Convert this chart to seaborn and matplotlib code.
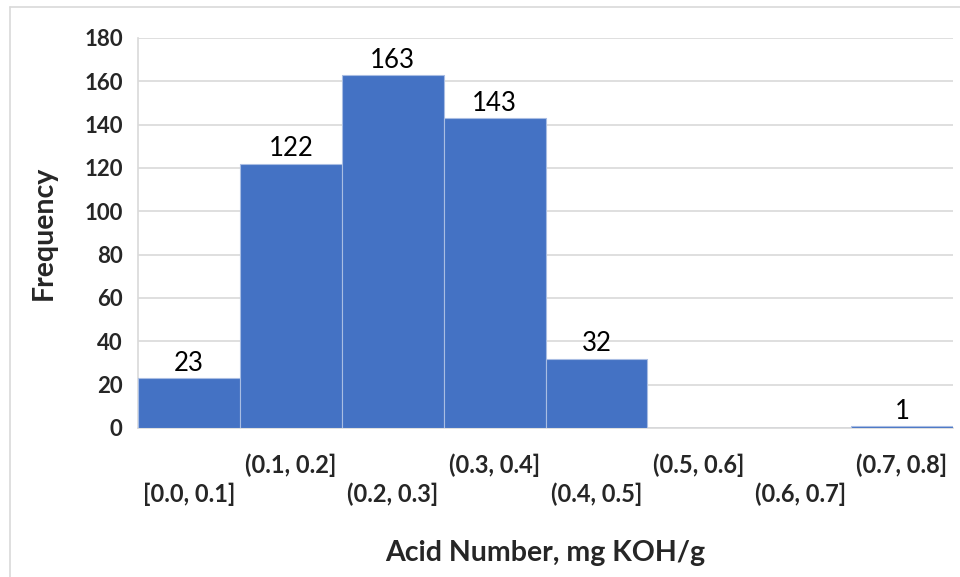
import numpy as np
import pandas as pd
import matplotlib.pyplot as plt
import seaborn as sns
from matplotlib.lines import Line2D

bins = ["[0.0, 0.1]", "(0.1, 0.2]", "(0.2, 0.3]", "(0.3, 0.4]",
        "(0.4, 0.5]", "(0.5, 0.6]", "(0.6, 0.7]", "(0.7, 0.8]"]
counts = [23, 122, 163, 143, 32, 0, 0, 1]
yticks = [0, 20, 40, 60, 80, 100, 120, 140, 160, 180]

BAR = "#4472C4"
GRID = "#D9D9D9"

sns.set_style("white")
plt.rcParams["font.family"] = ["Lato", "DejaVu Sans"]

df = pd.DataFrame({"bin": bins, "count": counts})

fig = plt.figure(figsize=(9.6, 5.77), dpi=100)
ax = fig.add_axes([138 / 960, 1 - 428 / 577, (953 - 138) / 960, (428 - 38) / 577])

sns.barplot(data=df, x="bin", y="count", color=BAR, width=1.0,
            edgecolor="#A9BDE3", linewidth=0.8, saturation=1, ax=ax, zorder=3)

ax.set_xlim(-0.5, len(bins) - 0.5)
ax.set_ylim(0, 180)
ax.set_yticks(yticks)
ax.yaxis.grid(True, color=GRID, linewidth=1.2, zorder=0)
ax.set_axisbelow(True)

# value labels above bars
for i, c in enumerate(counts):
    if c > 0:
        ax.text(i, c + 1.0, str(c), ha="center", va="bottom", fontsize=18.5, color="black")

# staggered category labels, tick marks on bin edges
ax.set_xticks(range(len(bins)))
ax.set_xticklabels([b if i % 2 else "\n" + b for i, b in enumerate(bins)],
                   fontsize=17, fontweight="bold", linespacing=1.35)
ax.tick_params(axis="x", which="major", length=0, pad=18, colors="#262626")
ax.set_xticks(np.arange(-0.5, len(bins)), minor=True)
ax.tick_params(axis="x", which="minor", length=7, width=1.2, color=GRID)
ax.tick_params(axis="y", length=7, width=1.2, color=GRID, labelsize=16, pad=4,
               labelcolor="#262626")
for lab in ax.get_yticklabels():
    lab.set_fontweight("bold")

for s in ["top", "right"]:
    ax.spines[s].set_visible(False)
for s in ["left", "bottom"]:
    ax.spines[s].set_color(GRID)
    ax.spines[s].set_linewidth(1.2)

ax.set_xlabel("Acid Number, mg KOH/g", fontsize=20.5, fontweight="bold", labelpad=24,
              color="#262626")
ax.set_ylabel("Frequency", fontsize=20.5, fontweight="bold", labelpad=20, color="#262626")

# outer chart frame (left and top only, as in the original)
fig.add_artist(Line2D([10 / 960, 10 / 960], [0, 1 - 7 / 577], color=GRID, lw=1.2))
fig.add_artist(Line2D([10 / 960, 1], [1 - 7 / 577, 1 - 7 / 577], color=GRID, lw=1.2))

fig.savefig("out.png", dpi=100)
plt.close(fig)
